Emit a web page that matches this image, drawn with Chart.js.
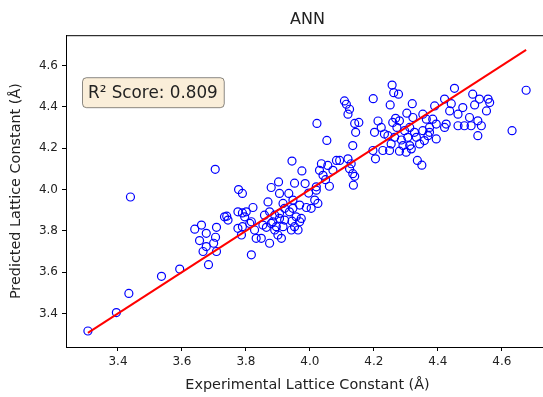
<!DOCTYPE html>
<html>
<head>
<meta charset="utf-8">
<script src="https://cdn.jsdelivr.net/npm/chart.js@4.4.1/dist/chart.umd.min.js"></script>
<style>
  html, body { margin: 0; padding: 0; background: #fff; overflow: hidden; }
  canvas { display: block; }
</style>
</head>
<body>
<canvas id="chart" width="560" height="397"></canvas>
<script>
// experimental vs predicted lattice constant (Å)
const experimental = [
  3.306, 3.395, 3.434, 3.439, 3.536, 3.593, 3.704, 3.640, 3.661, 3.655, 3.676, 3.666,
  3.676, 3.699, 3.708, 3.705, 3.708, 3.683, 3.733, 3.744, 3.740, 3.777, 3.789, 3.775,
  3.789, 3.801, 3.822, 3.775, 3.789, 3.786, 3.817, 3.827, 3.832, 3.817, 3.812, 3.796,
  3.944, 3.975, 3.902, 3.879, 3.952, 3.985, 4.020, 3.869, 3.905, 3.934, 3.916, 3.947,
  3.947, 3.968, 3.989, 4.015, 4.025, 4.020, 3.996, 3.921, 3.905, 3.936, 3.874, 3.890,
  3.858, 3.957, 3.905, 3.921, 3.944, 3.968, 3.973, 3.853, 3.884, 3.895, 3.879, 3.916,
  3.952, 3.864, 3.890, 3.942, 3.963, 3.900, 3.911, 3.848, 3.874, 4.004,
  4.022, 4.053, 4.198, 4.108, 4.114, 4.124, 4.119, 4.257, 4.262, 4.277, 4.251, 4.320,
  4.140, 4.153, 4.143, 4.134, 4.213, 4.223, 4.202, 4.233, 4.268, 4.280, 4.259, 4.272,
  4.303, 4.322, 4.312, 4.296, 4.327, 4.244, 4.265, 4.286, 4.306, 4.254, 4.228, 4.291,
  4.312, 4.249, 4.280, 4.301, 4.205, 4.197, 4.336, 4.350, 4.056, 4.036, 4.083, 4.093,
  4.119, 4.129, 4.124, 4.140, 4.072, 4.041, 4.049, 4.134, 4.136, 4.061, 4.030,
  4.452, 4.676, 4.390, 4.421, 4.442, 4.478, 4.509, 4.530, 4.557, 4.562, 4.515, 4.552,
  4.463, 4.437, 4.353, 4.364, 4.384, 4.374, 4.395, 4.426, 4.421, 4.463, 4.483, 4.504,
  4.499, 4.525, 4.536, 4.525, 4.632, 4.333, 4.353, 4.369, 4.395, 4.343, 4.317, 4.374,
  4.358
];
const predicted = [
  3.315, 3.404, 3.497, 3.964, 3.580, 3.615, 4.098, 3.808, 3.828, 3.753, 3.788, 3.700,
  3.724, 3.740, 3.817, 3.769, 3.700, 3.636, 3.868, 3.852, 3.871, 4.000, 3.981, 3.892,
  3.887, 3.892, 3.913, 3.812, 3.820, 3.780, 3.844, 3.804, 3.764, 3.684, 3.836, 3.868,
  4.138, 4.090, 4.037, 4.010, 4.031, 4.029, 4.013, 3.940, 3.981, 3.981, 3.933, 3.949,
  3.909, 3.925, 3.913, 3.949, 3.933, 3.997, 3.983, 3.909, 3.885, 3.892, 3.892, 3.876,
  3.876, 3.868, 3.860, 3.852, 3.847, 3.844, 3.860, 3.828, 3.844, 3.820, 3.836, 3.820,
  3.820, 3.817, 3.804, 3.804, 3.804, 3.780, 3.764, 3.764, 3.740, 3.909,
  4.320, 4.238, 4.440, 4.429, 4.413, 4.389, 4.365, 4.506, 4.469, 4.462, 4.410, 4.416,
  4.320, 4.325, 4.277, 4.213, 4.332, 4.301, 4.277, 4.269, 4.345, 4.333, 4.325, 4.301,
  4.370, 4.349, 4.301, 4.285, 4.277, 4.261, 4.253, 4.240, 4.253, 4.221, 4.189, 4.213,
  4.213, 4.189, 4.186, 4.181, 4.149, 4.189, 4.141, 4.118, 4.117, 4.125, 4.141, 4.141,
  4.149, 4.125, 4.101, 4.064, 4.093, 4.069, 4.048, 4.077, 4.021, 4.016, 4.093,
  4.490, 4.481, 4.405, 4.438, 4.416, 4.397, 4.462, 4.438, 4.438, 4.421, 4.410, 4.381,
  4.365, 4.381, 4.365, 4.341, 4.341, 4.301, 4.317, 4.317, 4.301, 4.309, 4.309, 4.309,
  4.349, 4.333, 4.309, 4.261, 4.285, 4.253, 4.285, 4.261, 4.245, 4.221, 4.197, 4.277,
  4.237
];

// y = x reference line
const fitX = [3.306, 4.676];
const fitY = [3.306, 4.676];

const xTicks = [3.4, 3.6, 3.8, 4.0, 4.2, 4.4, 4.6];
const yTicks = [3.4, 3.6, 3.8, 4.0, 4.2, 4.4, 4.6];
const scoreLabel = "R² Score: 0.809";

const FONT = "'DejaVu Sans', sans-serif";
const TEXT = "#222";

const framePlugin = {
  id: "frame",
  afterDraw(chart) {
    const { ctx, chartArea: a } = chart;
    ctx.save();
    // top spine (the right spine falls outside the picture)
    ctx.strokeStyle = "#000";
    ctx.lineWidth = 1;
    ctx.beginPath();
    ctx.moveTo(a.left, a.top + 0.5);
    ctx.lineTo(a.right, a.top + 0.5);
    ctx.stroke();

    // score box
    ctx.font = "16.8px " + FONT;
    const w = ctx.measureText(scoreLabel).width + 12;
    const bx = a.left + 16, by = a.top + 42, bh = 30;
    ctx.beginPath();
    ctx.roundRect(bx + 0.5, by + 0.5, w, bh, 4);
    ctx.fillStyle = "rgba(245,222,179,0.5)";
    ctx.fill();
    ctx.strokeStyle = "rgba(0,0,0,0.45)";
    ctx.stroke();
    ctx.fillStyle = TEXT;
    ctx.textBaseline = "middle";
    ctx.fillText(scoreLabel, bx + 6, by + bh / 2 + 1);
    ctx.restore();
  }
};

function axisOpts(ticks, title, fit, titlePad) {
  return {
    type: "linear",
    min: 3.2375,
    max: 4.7475,
    afterBuildTicks: s => { s.ticks = ticks.map(v => ({ value: v })); },
    afterFit: fit,
    grid: { drawOnChartArea: false, drawTicks: true, tickLength: 4, tickColor: "#000" },
    border: { display: true, color: "#000", width: 1 },
    ticks: {
      padding: 4,
      color: TEXT,
      autoSkip: false,
      maxRotation: 0,
      font: { family: FONT, size: 12 },
      callback: v => Number(v).toFixed(1)
    },
    title: {
      display: true,
      text: title,
      color: TEXT,
      font: { family: FONT, size: 14.4 },
      padding: titlePad
    }
  };
}

new Chart(document.getElementById("chart"), {
  type: "scatter",
  data: {
    datasets: [
      {
        label: "fit",
        data: fitX.map((x, i) => ({ x: x, y: fitY[i] })),
        showLine: true,
        borderColor: "#ff0000",
        borderWidth: 2,
        pointRadius: 0,
        order: 0
      },
      {
        label: "ANN",
        data: experimental.map((x, i) => ({ x: x, y: predicted[i] })),
        pointRadius: 4,
        pointBorderWidth: 1.2,
        pointBorderColor: "#0000ff",
        pointBackgroundColor: "rgba(0,0,0,0)",
        showLine: false,
        order: 1
      }
    ]
  },
  options: {
    animation: false,
    responsive: false,
    devicePixelRatio: 1,
    layout: { padding: { left: 0, right: 11, top: 0, bottom: 0 } },
    plugins: {
      legend: { display: false },
      tooltip: { enabled: false },
      title: {
        display: true,
        text: "ANN",
        fullSize: false,
        color: TEXT,
        font: { family: FONT, size: 16, weight: "normal" },
        padding: { top: 10, bottom: 6 }
      }
    },
    scales: {
      x: axisOpts(xTicks, "Experimental Lattice Constant (Å)", s => { s.height = 50; }, { top: 0, bottom: 3 }),
      y: axisOpts(yTicks, "Predicted Lattice Constant (Å)", s => { s.width = 66; }, { top: 8, bottom: 0 })
    }
  },
  plugins: [framePlugin]
});
</script>
</body>
</html>
